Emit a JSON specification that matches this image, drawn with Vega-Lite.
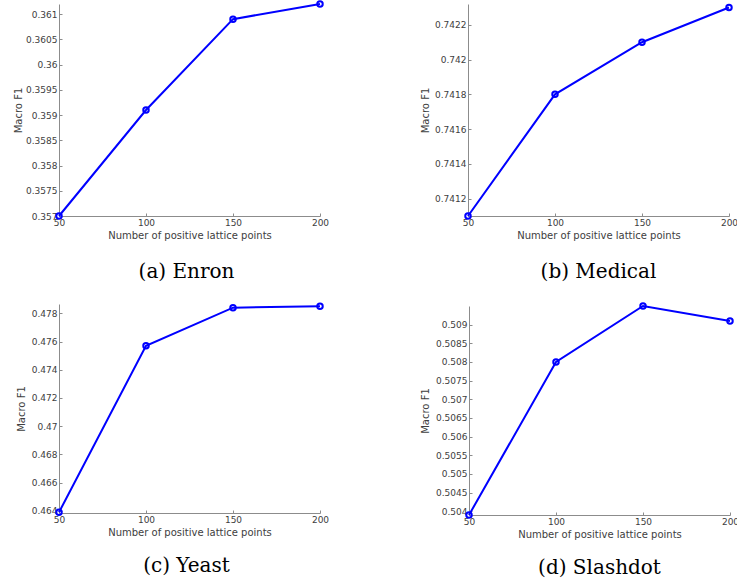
{
  "$schema": "https://vega.github.io/schema/vega-lite/v6.json",
  "background": "white",
  "padding": {"left": 13, "top": -3, "right": 0, "bottom": 0},
  "datasets": {
    "enron": [
      {"points": 50, "f1": 0.357},
      {"points": 100, "f1": 0.3591},
      {"points": 150, "f1": 0.3609},
      {"points": 200, "f1": 0.3612}
    ],
    "medical": [
      {"points": 50, "f1": 0.7411},
      {"points": 100, "f1": 0.7418},
      {"points": 150, "f1": 0.7421},
      {"points": 200, "f1": 0.7423}
    ],
    "yeast": [
      {"points": 50, "f1": 0.4639},
      {"points": 100, "f1": 0.4757},
      {"points": 150, "f1": 0.4784},
      {"points": 200, "f1": 0.4785}
    ],
    "slashdot": [
      {"points": 50, "f1": 0.5039},
      {"points": 100, "f1": 0.508},
      {"points": 150, "f1": 0.5095},
      {"points": 200, "f1": 0.5091}
    ]
  },
  "config": {
    "view": {"stroke": null},
    "font": "DejaVu Sans",
    "axis": {
      "grid": false,
      "domainColor": "#8c8c8c",
      "tickColor": "#8c8c8c",
      "tickSize": -3,
      "labelPadding": 5,
      "labelFont": "DejaVu Sans",
      "labelFontSize": 9,
      "labelColor": "#404040",
      "labelFlush": false,
      "titleFont": "DejaVu Sans",
      "titleFontSize": 10,
      "titleFontWeight": "normal",
      "titleColor": "#404040"
    },
    "axisX": {"titlePadding": 3},
    "axisY": {"titlePadding": 4},
    "title": {
      "font": "DejaVu Serif",
      "fontSize": 20,
      "fontWeight": "normal",
      "color": "#000000",
      "orient": "bottom",
      "frame": "group",
      "anchor": "middle",
      "offset": 22
    },
    "line": {"color": "#0000ff", "strokeWidth": 2},
    "point": {"color": "#0000ff", "filled": false, "size": 30, "strokeWidth": 2, "opacity": 1}
  },
  "columns": 2,
  "align": "none",
  "spacing": {"row": 17, "column": 91},
  "concat": [
    {
      "title": {"text": "(a) Enron", "dx": -3},
      "width": 261,
      "height": 212,
      "data": {"name": "enron"},
      "encoding": {
        "x": {"field": "points", "type": "quantitative",
              "scale": {"domain": [50, 200], "nice": false},
              "axis": {"values": [50, 100, 150, 200], "title": "Number of positive lattice points"}},
        "y": {"field": "f1", "type": "quantitative",
              "scale": {"domain": [0.357, 0.3612], "nice": false, "zero": false},
              "axis": {"values": [0.357, 0.3575, 0.358, 0.3585, 0.359, 0.3595, 0.36, 0.3605, 0.361],
                       "format": "~g", "title": "Macro F1", "titlePadding": 2}}
      },
      "layer": [{"mark": "line"}, {"mark": "point"}]
    },
    {
      "title": {"text": "(b) Medical"},
      "width": 261,
      "height": 212,
      "data": {"name": "medical"},
      "encoding": {
        "x": {"field": "points", "type": "quantitative",
              "scale": {"domain": [50, 200], "nice": false},
              "axis": {"values": [50, 100, 150, 200], "title": "Number of positive lattice points"}},
        "y": {"field": "f1", "type": "quantitative",
              "scale": {"domain": [0.7411, 0.74232], "nice": false, "zero": false},
              "axis": {"values": [0.7412, 0.7414, 0.7416, 0.7418, 0.742, 0.7422],
                       "format": "~g", "title": "Macro F1"}}
      },
      "layer": [{"mark": "line"}, {"mark": "point"}]
    },
    {
      "title": {"text": "(c) Yeast", "dx": -3, "offset": 19},
      "width": 261,
      "height": 209,
      "data": {"name": "yeast"},
      "encoding": {
        "x": {"field": "points", "type": "quantitative",
              "scale": {"domain": [50, 200], "nice": false},
              "axis": {"values": [50, 100, 150, 200], "title": "Number of positive lattice points"}},
        "y": {"field": "f1", "type": "quantitative",
              "scale": {"domain": [0.46385, 0.47866], "nice": false, "zero": false},
              "axis": {"values": [0.464, 0.466, 0.468, 0.47, 0.472, 0.474, 0.476, 0.478],
                       "format": "~g", "title": "Macro F1", "titlePadding": 5}}
      },
      "layer": [{"mark": "line"}, {"mark": "point"}]
    },
    {
      "title": {"text": "(d) Slashdot", "offset": 19},
      "width": 261,
      "height": 209,
      "data": {"name": "slashdot"},
      "encoding": {
        "x": {"field": "points", "type": "quantitative",
              "scale": {"domain": [50, 200], "nice": false},
              "axis": {"values": [50, 100, 150, 200], "title": "Number of positive lattice points"}},
        "y": {"field": "f1", "type": "quantitative",
              "scale": {"domain": [0.5039, 0.5095], "nice": false, "zero": false},
              "axis": {"values": [0.504, 0.5045, 0.505, 0.5055, 0.506, 0.5065, 0.507, 0.5075, 0.508, 0.5085, 0.509],
                       "format": "~g", "title": "Macro F1", "titlePadding": 5}}
      },
      "layer": [{"mark": "line"}, {"mark": "point"}]
    }
  ]
}
